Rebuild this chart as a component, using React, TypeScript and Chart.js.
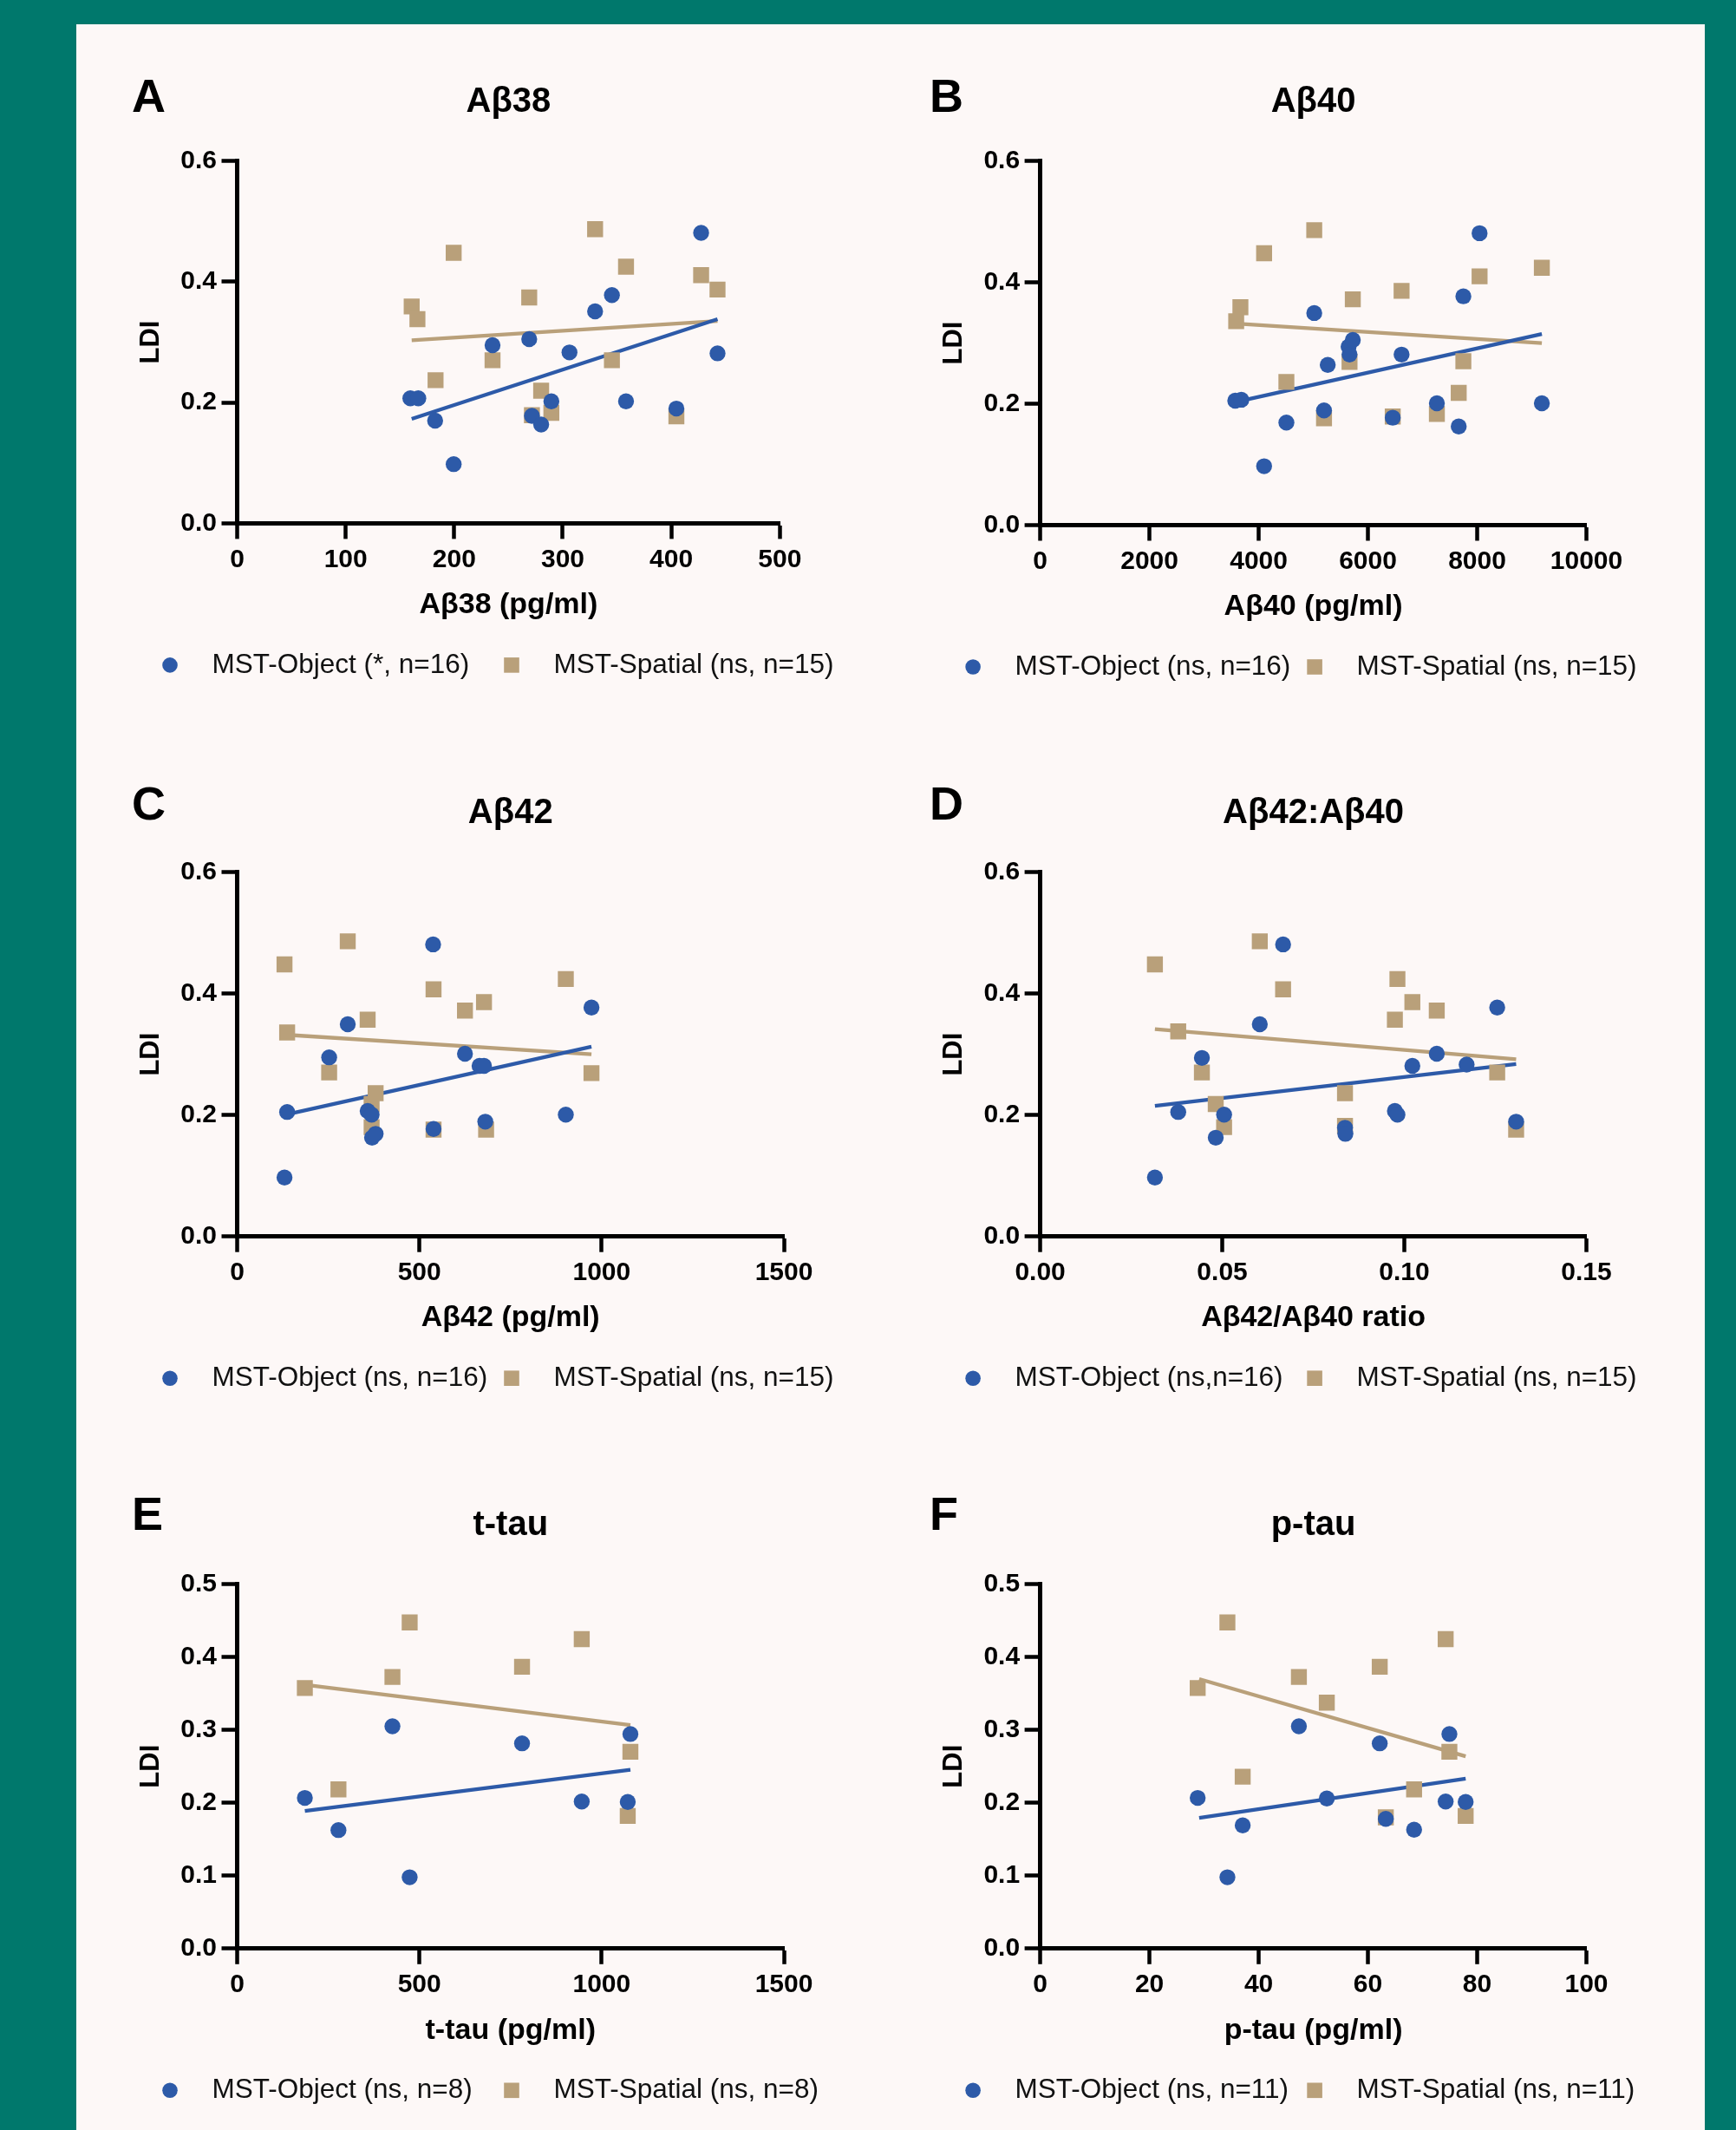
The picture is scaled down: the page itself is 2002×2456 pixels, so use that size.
import React, { useEffect, useRef } from "react";
import { Chart, registerables } from "chart.js";

Chart.register(...registerables);

const FONT = "'Liberation Sans', Arial, Helvetica, sans-serif";
const BLUE = "#2D5AA8";
const TAN = "#B9A07A";
const TEAL = "#00786C";
const PAPER = "#FDF8F7";

// ---------- Panel A: Aβ38 ----------
const aObjX = [159.6, 166.9, 182.4, 199.5, 235.3, 269.1, 271.6, 280.1, 289.5, 306.2, 329.8, 345.3, 358.3, 404.7, 427.5, 442.6];
const aObjY = [0.207, 0.207, 0.17, 0.098, 0.295, 0.305, 0.178, 0.1635, 0.202, 0.283, 0.351, 0.378, 0.202, 0.19, 0.481, 0.2815];
const aSpX = [160.8, 166.1, 199.5, 182.8, 235.3, 269.1, 271.6, 280.1, 289.5, 329.8, 345.3, 358.3, 404.7, 427.5, 442.6];
const aSpY = [0.359, 0.338, 0.448, 0.237, 0.27, 0.374, 0.179, 0.2196, 0.183, 0.487, 0.27, 0.425, 0.177, 0.411, 0.387];
const aObjFit = [[160.8, 0.173], [442.6, 0.338]];
const aSpFit = [[160.8, 0.303], [442.6, 0.335]];

// ---------- Panel B: Aβ40 ----------
const bObjX = [3571, 3682, 4099, 4507, 5017, 5196, 5264, 5646, 5663, 5723, 6454, 6616, 7262, 7662, 7747, 8044, 9184];
const bObjY = [0.205, 0.2066, 0.097, 0.169, 0.3495, 0.189, 0.264, 0.294, 0.281, 0.305, 0.177, 0.281, 0.2007, 0.1626, 0.377, 0.481, 0.2007];
const bSpX = [3588, 3665, 4099, 4507, 5017, 5196, 5663, 5723, 6454, 6616, 7262, 7662, 7747, 8044, 9184];
const bSpY = [0.336, 0.359, 0.448, 0.236, 0.486, 0.176, 0.269, 0.372, 0.179, 0.386, 0.183, 0.218, 0.27, 0.41, 0.424];
const bObjFit = [[3588, 0.203], [9184, 0.315]];
const bSpFit = [[3588, 0.332], [9184, 0.3]];

// ---------- Panel C: Aβ42 ----------
const cObjX = [129.9, 137.1, 252.4, 303.4, 358, 368.9, 370.1, 379.9, 537.6, 538.8, 625, 665, 677.2, 680.8, 901.7, 972.1];
const cObjY = [0.097, 0.205, 0.295, 0.3495, 0.2066, 0.2007, 0.1626, 0.169, 0.481, 0.177, 0.301, 0.281, 0.281, 0.189, 0.2007, 0.377];
const cSpX = [129.9, 137.1, 252.4, 303.4, 358, 368.9, 368.9, 379.9, 538.8, 538.8, 625, 677.2, 683, 901.7, 972.1];
const cSpY = [0.448, 0.336, 0.27, 0.486, 0.357, 0.218, 0.18, 0.236, 0.407, 0.176, 0.372, 0.386, 0.176, 0.424, 0.269];
const cObjFit = [[137, 0.201], [972, 0.3125]];
const cSpFit = [[137, 0.332], [972, 0.3]];

// ---------- Panel D: Aβ42:Aβ40 ----------
const dObjX = [0.0315, 0.0379, 0.0444, 0.0482, 0.0505, 0.0603, 0.0667, 0.0837, 0.0838, 0.0974, 0.0981, 0.1022, 0.1089, 0.1171, 0.1255, 0.1307];
const dObjY = [0.097, 0.205, 0.294, 0.1626, 0.2007, 0.3495, 0.481, 0.179, 0.169, 0.2066, 0.2007, 0.281, 0.301, 0.283, 0.377, 0.189];
const dSpX = [0.0315, 0.0379, 0.0444, 0.0482, 0.0505, 0.0603, 0.0667, 0.0837, 0.0837, 0.0974, 0.0981, 0.1022, 0.1089, 0.1255, 0.1307];
const dSpY = [0.448, 0.3377, 0.27, 0.218, 0.18, 0.486, 0.407, 0.236, 0.182, 0.357, 0.424, 0.386, 0.372, 0.27, 0.176];
const dObjFit = [[0.0315, 0.215], [0.1307, 0.284]];
const dSpFit = [[0.0315, 0.3415], [0.1307, 0.2918]];

// ---------- Panel E: t-tau ----------
const eObjX = [185.7, 277.9, 426, 473.3, 781.6, 945.4, 1071.6, 1078.9];
const eObjY = [0.2067, 0.1626, 0.305, 0.0978, 0.2816, 0.2017, 0.2011, 0.2944];
const eSpX = [185.7, 277.9, 426, 473.3, 781.6, 945.4, 1071.6, 1078.9];
const eSpY = [0.3575, 0.2184, 0.3726, 0.4475, 0.3866, 0.4246, 0.182, 0.27];
const eObjFit = [[185.7, 0.1888], [1078.9, 0.2453]];
const eSpFit = [[185.7, 0.362], [1078.9, 0.3067]];

// ---------- Panel F: p-tau ----------
const fObjX = [28.83, 34.27, 37.07, 47.36, 52.47, 62.16, 63.27, 68.45, 74.23, 74.91, 77.89];
const fObjY = [0.2067, 0.0978, 0.169, 0.305, 0.206, 0.2816, 0.178, 0.163, 0.2017, 0.2944, 0.2011];
const fSpX = [28.83, 34.27, 37.07, 47.36, 52.47, 62.16, 63.27, 68.45, 74.23, 74.91, 77.89];
const fSpY = [0.3575, 0.4475, 0.2358, 0.3726, 0.3374, 0.3866, 0.18, 0.2184, 0.4246, 0.27, 0.182];
const fObjFit = [[29.1, 0.1793], [77.89, 0.233]];
const fSpFit = [[29.1, 0.3698], [77.89, 0.2637]];

// ---------- Ticks ----------
const yTicks06 = [0, 0.2, 0.4, 0.6];
const yLabels06 = ["0.0", "0.2", "0.4", "0.6"];
const yTicks05 = [0, 0.1, 0.2, 0.3, 0.4, 0.5];
const yLabels05 = ["0.0", "0.1", "0.2", "0.3", "0.4", "0.5"];
const xTicksA = [0, 100, 200, 300, 400, 500];
const xLabelsA = ["0", "100", "200", "300", "400", "500"];
const xTicksB = [0, 2000, 4000, 6000, 8000, 10000];
const xLabelsB = ["0", "2000", "4000", "6000", "8000", "10000"];
const xTicksC = [0, 500, 1000, 1500];
const xLabelsC = ["0", "500", "1000", "1500"];
const xTicksD = [0, 0.05, 0.1, 0.15];
const xLabelsD = ["0.00", "0.05", "0.10", "0.15"];
const xTicksF = [0, 20, 40, 60, 80, 100];
const xLabelsF = ["0", "20", "40", "60", "80", "100"];

// ---------- Texts ----------
const letters = ["A", "B", "C", "D", "E", "F"];
const titles = ["Aβ38", "Aβ40", "Aβ42", "Aβ42:Aβ40", "t-tau", "p-tau"];
const xTitles = ["Aβ38 (pg/ml)", "Aβ40 (pg/ml)", "Aβ42 (pg/ml)", "Aβ42/Aβ40 ratio", "t-tau (pg/ml)", "p-tau (pg/ml)"];
const objLegend = ["MST-Object (*, n=16)", "MST-Object (ns, n=16)", "MST-Object (ns, n=16)", "MST-Object (ns,n=16)", "MST-Object (ns, n=8)", "MST-Object (ns, n=11)"];
const spLegend = ["MST-Spatial (ns, n=15)", "MST-Spatial (ns, n=15)", "MST-Spatial (ns, n=15)", "MST-Spatial (ns, n=15)", "MST-Spatial (ns, n=8)", "MST-Spatial (ns, n=11)"];

type PanelCfg = {
  idx: number;
  objX: number[]; objY: number[]; spX: number[]; spY: number[];
  objFit: number[][]; spFit: number[][];
  xTicks: number[]; xLabels: string[]; yTicks: number[]; yLabels: string[];
  box: { L: number; R: number; T: number; B: number };
  letterX: number; letterCapTop: number;
};

const panels: PanelCfg[] = [
  { idx: 0, objX: aObjX, objY: aObjY, spX: aSpX, spY: aSpY, objFit: aObjFit, spFit: aSpFit, xTicks: xTicksA, xLabels: xLabelsA, yTicks: yTicks06, yLabels: yLabels06, box: { L: 273.5, R: 899.3, T: 185.6, B: 603.4 }, letterX: 152, letterCapTop: 90 },
  { idx: 1, objX: bObjX, objY: bObjY, spX: bSpX, spY: bSpY, objFit: bObjFit, spFit: bSpFit, xTicks: xTicksB, xLabels: xLabelsB, yTicks: yTicks06, yLabels: yLabels06, box: { L: 1199.6, R: 1829.5, T: 185.6, B: 605.5 }, letterX: 1072, letterCapTop: 90 },
  { idx: 2, objX: cObjX, objY: cObjY, spX: cSpX, spY: cSpY, objFit: cObjFit, spFit: cSpFit, xTicks: xTicksC, xLabels: xLabelsC, yTicks: yTicks06, yLabels: yLabels06, box: { L: 273.5, R: 904, T: 1005.6, B: 1425.7 }, letterX: 152, letterCapTop: 906 },
  { idx: 3, objX: dObjX, objY: dObjY, spX: dSpX, spY: dSpY, objFit: dObjFit, spFit: dSpFit, xTicks: xTicksD, xLabels: xLabelsD, yTicks: yTicks06, yLabels: yLabels06, box: { L: 1199.6, R: 1829.5, T: 1005.6, B: 1425.7 }, letterX: 1072, letterCapTop: 906 },
  { idx: 4, objX: eObjX, objY: eObjY, spX: eSpX, spY: eSpY, objFit: eObjFit, spFit: eSpFit, xTicks: xTicksC, xLabels: xLabelsC, yTicks: yTicks05, yLabels: yLabels05, box: { L: 273.5, R: 904, T: 1826.6, B: 2246.8 }, letterX: 152, letterCapTop: 1725 },
  { idx: 5, objX: fObjX, objY: fObjY, spX: fSpX, spY: fSpY, objFit: fObjFit, spFit: fSpFit, xTicks: xTicksF, xLabels: xLabelsF, yTicks: yTicks05, yLabels: yLabels05, box: { L: 1199.6, R: 1829.5, T: 1826.6, B: 2246.8 }, letterX: 1072, letterCapTop: 1725 },
];

const X_SCALE_H = 114.8;
const CIRCLE_R = 9.2;
const RECT_R = 13;

function geom(box: { L: number; R: number; T: number; B: number }) {
  const CL = Math.floor(box.L - 135);
  const CT = Math.floor(box.T - 110);
  const W = Math.ceil(box.R + 100) - CL;
  const H = Math.ceil(box.B + 205) - CT;
  return { CL, CT, W, H, l: box.L - CL, r: box.R - CL, t: box.T - CT, b: box.B - CT };
}

const panelDecorPlugin = {
  id: "panelDecor",
  afterDraw(chart: any, _args: any, opts: any) {
    const { ctx, chartArea } = chart;
    ctx.save();
    // panel letter
    ctx.font = `bold 54px ${FONT}`;
    ctx.fillStyle = "#000";
    ctx.textAlign = "left";
    ctx.textBaseline = "alphabetic";
    ctx.fillText(opts.letter, opts.letterX, opts.letterBaseline);
    // legend
    ctx.font = `31.5px ${FONT}`;
    ctx.textBaseline = "middle";
    const y = chartArea.bottom + 163.5;
    (opts.labels as string[]).forEach((text, i) => {
      const ds = chart.data.datasets[i];
      const x = chartArea.left - 77.5 + i * 394;
      ctx.fillStyle = ds.backgroundColor;
      if (ds.pointStyle === "rect") {
        ctx.fillRect(x - 8.8, y - 8.8, 17.6, 17.6);
      } else {
        ctx.beginPath();
        ctx.arc(x, y, 8.8, 0, Math.PI * 2);
        ctx.fill();
      }
      ctx.fillStyle = "#111";
      ctx.fillText(text, x + 48.5, y);
    });
    ctx.restore();
  },
};

function Panel({ cfg }: { cfg: PanelCfg }) {
  const ref = useRef<HTMLCanvasElement>(null);
  const g = geom(cfg.box);

  useEffect(() => {
    if (!ref.current) return;
    const i = cfg.idx;
    const axisCommon = {
      grid: { display: true, drawOnChartArea: false, drawTicks: true, tickLength: 18, tickWidth: 4.5, tickColor: "#000" },
      border: { display: true, width: 5, color: "#000" },
    };
    const chart = new Chart(ref.current, {
      type: "scatter",
      data: {
        datasets: [
          {
            label: objLegend[i],
            data: cfg.objX.map((x, k) => ({ x, y: cfg.objY[k] })),
            pointStyle: "circle",
            pointRadius: CIRCLE_R,
            pointHoverRadius: CIRCLE_R,
            backgroundColor: BLUE,
            borderColor: BLUE,
            pointBorderWidth: 0,
            borderWidth: 0,
          },
          {
            label: spLegend[i],
            data: cfg.spX.map((x, k) => ({ x, y: cfg.spY[k] })),
            pointStyle: "rect",
            pointRadius: RECT_R,
            pointHoverRadius: RECT_R,
            backgroundColor: TAN,
            borderColor: TAN,
            pointBorderWidth: 0,
            borderWidth: 0,
          },
          {
            label: "fit-object",
            data: cfg.objFit.map((p) => ({ x: p[0], y: p[1] })),
            showLine: true,
            pointRadius: 0,
            borderColor: BLUE,
            backgroundColor: BLUE,
            borderWidth: 4.3,
            fill: false,
          },
          {
            label: "fit-spatial",
            data: cfg.spFit.map((p) => ({ x: p[0], y: p[1] })),
            showLine: true,
            pointRadius: 0,
            borderColor: TAN,
            backgroundColor: TAN,
            borderWidth: 4.3,
            fill: false,
          },
        ],
      },
      options: {
        animation: false,
        responsive: false,
        maintainAspectRatio: false,
        devicePixelRatio: 1,
        events: [],
        layout: { padding: { left: 0, top: 0, right: g.W - g.r, bottom: g.H - g.b - X_SCALE_H } },
        plugins: {
          legend: { display: false },
          tooltip: { enabled: false },
          title: {
            display: true,
            text: titles[i],
            fullSize: false,
            color: "#000",
            font: { family: FONT, size: 40, weight: "bold", lineHeight: 1.2 },
            padding: { top: g.t - 91.6, bottom: 43.6 },
          },
          panelDecor: {
            letter: letters[i],
            letterX: cfg.letterX - g.CL,
            letterBaseline: cfg.letterCapTop + 38.7 - g.CT,
            labels: [objLegend[i], spLegend[i]],
          },
        } as any,
        scales: {
          x: {
            type: "linear",
            min: cfg.xTicks[0],
            max: cfg.xTicks[cfg.xTicks.length - 1],
            afterBuildTicks: (s: any) => {
              s.ticks = cfg.xTicks.map((v) => ({ value: v }));
            },
            afterFit: (s: any) => {
              s.height = X_SCALE_H;
            },
            ticks: {
              autoSkip: false,
              maxRotation: 0,
              padding: 6.4,
              color: "#000",
              font: { family: FONT, size: 30, weight: "bold" },
              callback: (_v: any, k: number) => cfg.xLabels[k],
            },
            title: {
              display: true,
              text: xTitles[i],
              color: "#000",
              font: { family: FONT, size: 34, weight: "bold", lineHeight: 1.2 },
              padding: { top: 0, bottom: 0 },
            },
            ...axisCommon,
          },
          y: {
            type: "linear",
            min: cfg.yTicks[0],
            max: cfg.yTicks[cfg.yTicks.length - 1],
            afterBuildTicks: (s: any) => {
              s.ticks = cfg.yTicks.map((v) => ({ value: v }));
            },
            afterFit: (s: any) => {
              s.width = g.l;
            },
            ticks: {
              autoSkip: false,
              padding: 5.5,
              color: "#000",
              font: { family: FONT, size: 30, weight: "bold" },
              callback: (_v: any, k: number) => cfg.yLabels[k],
            },
            title: {
              display: true,
              text: "LDI",
              color: "#000",
              font: { family: FONT, size: 31, weight: "bold", lineHeight: 1.2 },
              padding: { top: g.l - 117.6, bottom: 0 },
            },
            ...axisCommon,
          },
        } as any,
      },
      plugins: [panelDecorPlugin as any],
    });
    return () => chart.destroy();
  }, []);

  return (
    <canvas
      ref={ref}
      width={g.W}
      height={g.H}
      style={{ position: "absolute", left: g.CL, top: g.CT, width: g.W, height: g.H }}
    />
  );
}

export default function App() {
  return (
    <div style={{ position: "absolute", left: 0, top: 0, width: 2002, height: 2456, background: TEAL, overflow: "hidden", fontFamily: FONT }}>
      <div style={{ position: "absolute", left: 88, top: 28, width: 1878, height: 2428, background: PAPER }} />
      {panels.map((p) => (
        <Panel key={p.idx} cfg={p} />
      ))}
    </div>
  );
}
